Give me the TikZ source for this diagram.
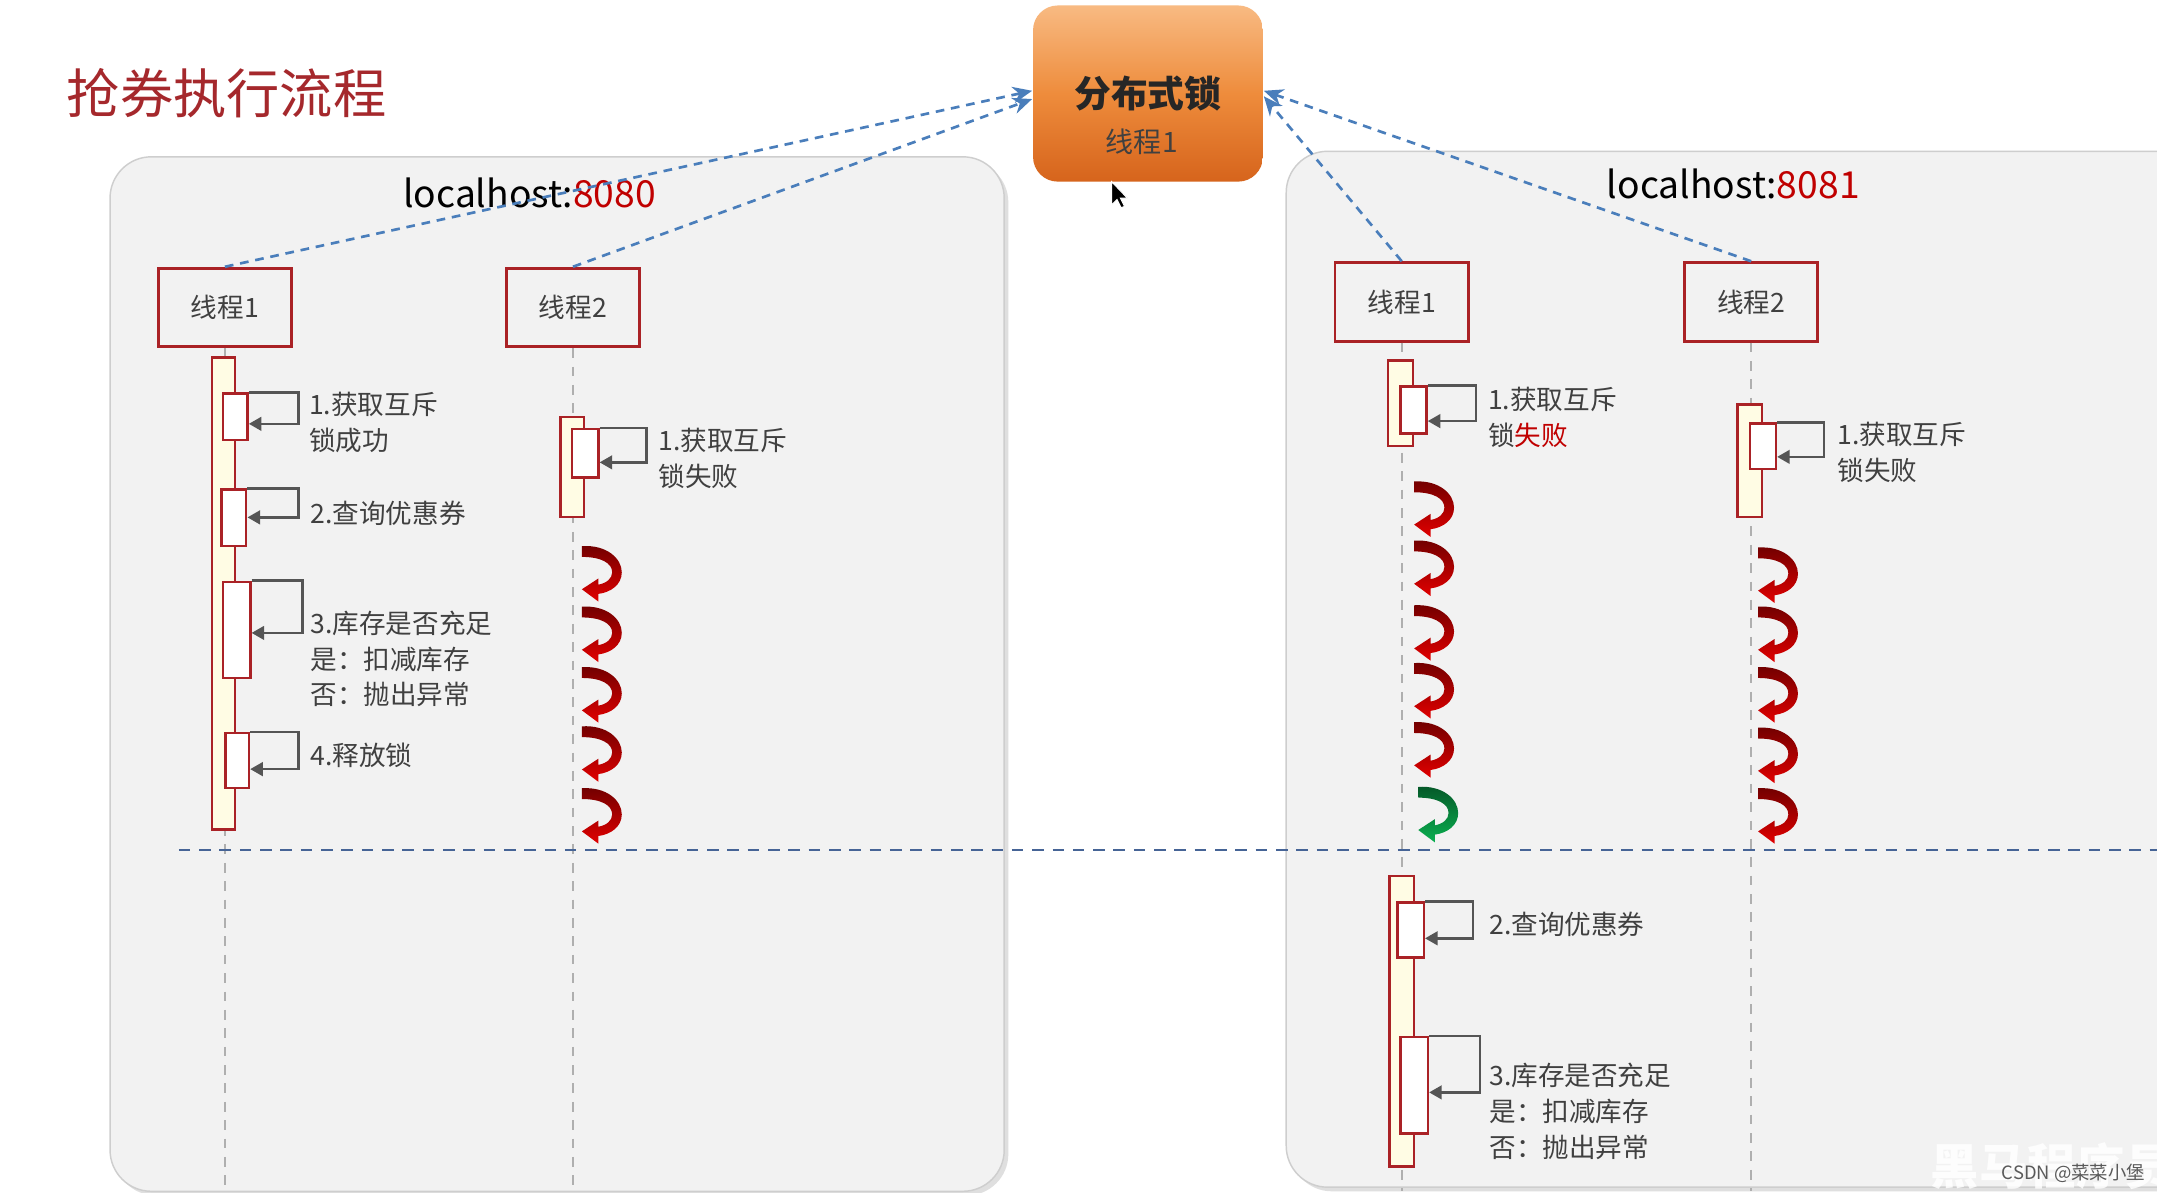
\documentclass[tikz,border=0pt]{standalone}
\usepackage{fontspec}
\setmainfont{Noto Sans CJK SC}
\usetikzlibrary{arrows.meta}
\usetikzlibrary{shadows}

\definecolor{panelgray}{RGB}{242,242,242}
\definecolor{boxred}{RGB}{170,34,38}
\definecolor{barcream}{RGB}{255,252,228}
\definecolor{textgray}{RGB}{64,64,64}
\definecolor{callgray}{RGB}{85,85,85}
\definecolor{lifegray}{RGB}{175,175,175}
\definecolor{lockblue}{RGB}{74,126,187}
\definecolor{sepblue}{RGB}{70,100,150}
\definecolor{titlered}{RGB}{165,40,44}
\definecolor{portred}{RGB}{192,0,0}
\definecolor{locktop}{RGB}{248,186,130}
\definecolor{lockmid}{RGB}{238,140,60}
\definecolor{lockbot}{RGB}{214,100,28}
\definecolor{spinred}{RGB}{225,0,0}
\definecolor{spingreen}{RGB}{10,175,80}
\definecolor{csdngray}{RGB}{90,90,90}

\newcommand{\lblfont}{\fontsize{5.5}{7.4}\selectfont}
\newcommand{\hostfont}{\fontsize{7.7}{10}\selectfont}

\tikzset{
  panel/.style={fill=panelgray, draw=panelgray!85!black, line width=0.3pt, rounded corners=0.3cm,
    drop shadow={shadow xshift=0.03cm, shadow yshift=-0.03cm, opacity=0.25}},
  thread/.style={draw=boxred, line width=0.6pt, minimum width=0.97cm, minimum height=0.57cm,
    inner sep=0pt, text=textgray, font=\lblfont},
  lifeline/.style={draw=lifegray, line width=0.45pt, dash pattern=on 2pt off 1.8pt},
  actbar/.style={draw=boxred, fill=barcream, line width=0.5pt, minimum width=0.17cm, inner sep=0pt},
  subbox/.style={draw=boxred, fill=white, line width=0.5pt, minimum width=0.19cm, inner sep=0pt},
  callline/.style={draw=callgray, line width=0.55pt, -{Triangle[length=2.6pt,width=2.8pt]}},
  lbl/.style={anchor=west, align=left, inner sep=0pt, text=textgray, font=\lblfont},
  lockarrow/.style={draw=lockblue, line width=0.55pt, dash pattern=on 1.8pt off 1.4pt,
    -{Stealth[length=4pt,width=3.4pt]}},
  sepline/.style={draw=sepblue, line width=0.55pt, dash pattern=on 2.4pt off 1.8pt},
  pics/spin/.style={code={
    \shade[yscale=1.12, top color=#1!50!black, bottom color=#1]
      (0,0) .. controls (18,-1) and (29,8) .. (29,17) .. controls (29,25) and (21,30) .. (12,31)
      -- (12,36) -- (0,28) -- (12,21) -- (12,25)
      .. controls (18,24) and (22,21) .. (22,17) .. controls (22,11) and (14,7) .. (0,7) -- cycle;
  }}
}

\begin{document}
\begin{tikzpicture}[x=0.01cm,y=-0.01cm]
\useasboundingbox (0,0) rectangle (1568,867);
\clip (0,0) rectangle (1568,867);
\fill[white] (0,0) rectangle (1568,867);

% two servers
\draw[panel] (80,114) rectangle (730,866);
\draw[panel] (935,110) rectangle (1600,863);

\node[anchor=west, inner sep=0pt, text=titlered, font=\fontsize{11}{13}\selectfont] (title) at (48,68) {抢券执行流程};

\node[inner sep=0pt, font=\hostfont] (hostA) at (385,140) {localhost:\textcolor{portred}{8080}};
\node[inner sep=0pt, font=\hostfont] (hostB) at (1260,134) {localhost:\textcolor{portred}{8081}};

% threads
\node[thread] (t1a) at (163.5,223.5) {线程1};
\node[thread] (t2a) at (416.5,223.5) {线程2};
\node[thread] (t1b) at (1019,219.5) {线程1};
\node[thread] (t2b) at (1273,219.5) {线程2};

\foreach \t in {t1a,t2a,t1b,t2b}
  \draw[lifeline] (\t.south) -- (\t.south |- 0,866);

\coordinate (sepL) at (130,618);
\coordinate (sepR) at (1568,618);
\draw[sepline] (sepL) -- (sepR);

% 8080 thread 1
\node[actbar, minimum height=3.43cm] (barA1) at (162.5,431.5) {};
\node[subbox, minimum width=0.18cm, minimum height=0.34cm] (a1) at (171,303) {};
\node[subbox, minimum width=0.18cm, minimum height=0.41cm] (a2) at (170,376.5) {};
\node[subbox, minimum width=0.2cm, minimum height=0.7cm] (a3) at (172,458) {};
\node[subbox, minimum width=0.17cm, minimum height=0.4cm] (a4) at (172.5,553) {};
\draw[callline] (a1.north east) -- ++(36,0) -- ++(0,23) -- ++(-36,0);
\draw[callline] (a2.north east) -- ++(37,0) -- ++(0,21) -- ++(-37,0);
\draw[callline] (a3.north east) -- ++(37,0) -- ++(0,38) -- ++(-37,0);
\draw[callline] (a4.north east) -- ++(35,0) -- ++(0,27) -- ++(-35,0);
\node[lbl] (la1) at (224,307) {1.获取互斥\\锁成功};
\node[lbl] (la2) at (225,373) {2.查询优惠券};
\node[lbl] (la3) at (225,479) {3.库存是否充足\\是：扣减库存\\否：抛出异常};
\node[lbl] (la4) at (225,549) {4.释放锁};

% 8080 thread 2
\node[actbar, minimum height=0.73cm] (barA2) at (416,339.5) {};
\node[subbox, minimum height=0.35cm] (b1) at (425.5,329.5) {};
\draw[callline] (b1.north east) -- ++(34,0) -- ++(0,25) -- ++(-34,0);
\node[lbl] (lb1) at (478,333) {1.获取互斥\\锁失败};
\foreach \yy in {397,441,485,528,573}
  \pic at (423,\yy) {spin=spinred};

% 8081 thread 1
\node[actbar, minimum width=0.18cm, minimum height=0.62cm] (barB1) at (1018,293) {};
\node[subbox, minimum height=0.34cm] (c1) at (1027.5,298) {};
\draw[callline] (c1.north east) -- ++(35,0) -- ++(0,26) -- ++(-35,0);
\node[lbl] (lc1) at (1081,303.5) {1.获取互斥\\锁\textcolor{portred}{失败}};
\foreach \yy in {350,393,440,482,525}
  \pic at (1028,\yy) {spin=spinred};
\pic at (1031,572) {spin=spingreen};

\node[actbar, minimum width=0.18cm, minimum height=2.11cm] (barB3) at (1019,742.5) {};
\node[subbox, minimum height=0.4cm] (c2) at (1025.5,676) {};
\node[subbox, minimum width=0.2cm, minimum height=0.7cm] (c3) at (1028,789) {};
\draw[callline] (c2.north east) -- ++(35,0) -- ++(0,27) -- ++(-35,0);
\draw[callline] (c3.north east) -- ++(37,0) -- ++(0,41) -- ++(-37,0);
\node[lbl] (lc2) at (1082,672) {2.查询优惠券};
\node[lbl] (lc3) at (1082,808) {3.库存是否充足\\是：扣减库存\\否：抛出异常};

% 8081 thread 2
\node[actbar, minimum width=0.18cm, minimum height=0.82cm] (barB2) at (1272,335) {};
\node[subbox, minimum height=0.33cm] (d1) at (1281.5,324.5) {};
\draw[callline] (d1.north east) -- ++(34,0) -- ++(0,25) -- ++(-34,0);
\node[lbl] (ld1) at (1335,329) {1.获取互斥\\锁失败};
\foreach \yy in {398,441,485,529,573}
  \pic at (1278,\yy) {spin=spinred};

% the lock
\node[minimum width=1.67cm, minimum height=1.28cm, rounded corners=0.18cm,
  top color=locktop, bottom color=lockbot, middle color=lockmid] (lock) at (834.5,68) {};
\node[font=\bfseries\fontsize{7.6}{9}\selectfont, text=black!85] (locktitle) at (834.5,68) {分布式锁};
\node[font=\fontsize{5.8}{7}\selectfont, text=textgray] (lockowner) at (830,103) {线程1};

\draw[lockarrow] (t1a.north) -- ([yshift=0.02cm]lock.west);
\draw[lockarrow] (t2a.north) -- ([yshift=-0.04cm]lock.west);
\draw[lockarrow] (t1b.north) -- ([yshift=-0.02cm]lock.east);
\draw[lockarrow] (t2b.north) -- ([yshift=0.02cm]lock.east);

% mouse pointer
\filldraw[fill=black, draw=white, line width=0.2pt] (808,132) -- (808,149) -- (812,145) -- (815,151)
  -- (817.5,150) -- (814.5,144) -- (819.5,144) -- cycle;

\node[anchor=north west, inner sep=0pt, text=white, opacity=0.85,
  font=\bfseries\fontsize{10}{12}\selectfont] (wmark) at (1403,830) {黑马程序员};
\node[anchor=east, inner sep=0pt, text=csdngray, font=\fontsize{3.8}{4.5}\selectfont] (csdn) at (1560,853) {CSDN @菜菜小堡};

\end{tikzpicture}
\end{document}
